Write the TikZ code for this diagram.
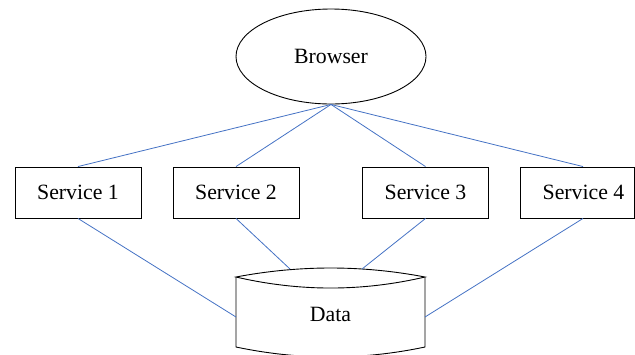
\documentclass[tikz,border=0pt]{standalone}
\usepackage{fontspec}
\setmainfont{Liberation Serif}
\usetikzlibrary{shapes.geometric}
\begin{document}
\begin{tikzpicture}[x=1pt,y=-1pt,
  every node/.style={font=\fontsize{21.8}{24}\selectfont, inner sep=0pt},
  svc/.style={draw=black, line width=0.9pt, minimum width=126pt, minimum height=51pt},
  conn/.style={draw=linkblue, line width=0.8pt},
  outline/.style={draw=black, line width=0.9pt}]
\definecolor{linkblue}{RGB}{68,114,196}
\useasboundingbox (0,0) rectangle (635,354);
\node[ellipse, outline, minimum width=190pt, minimum height=95pt] (browser) at (331,56.5) {Browser};
\node[svc] (s1) at (78,192.5) {Service 1};
\node[svc] (s2) at (236,192.5) {Service 2};
\node[svc] (s3) at (425.5,192.5) {Service 3};
\node[svc, minimum width=114pt] (s4) at (577,192.5) {\hspace*{13pt}Service 4};
% database cylinder
\draw[outline] (236,277) .. controls (299.3,265) and (362,265) .. (425,277)
  .. controls (362,291.7) and (299.3,291.7) .. (236,277) -- cycle;
\draw[outline] (236,277) -- (236,347) .. controls (299.3,360.3) and (362,360.3) .. (425,347) -- (425,277);
\node (data) at (330.5,314) {Data};
\coordinate (s4n) at ([xshift=6pt]s4.north);
\coordinate (s4s) at ([xshift=6pt]s4.south);
\coordinate (dbl) at (236,317);
\coordinate (dbtl) at (290,269);
\coordinate (dbtr) at (362,269);
\coordinate (dbr) at (425,317);
\path[conn] (browser.south) -- (s1.north);
\path[conn] (browser.south) -- (s2.north);
\path[conn] (browser.south) -- (s3.north);
\path[conn] (browser.south) -- (s4n);
\path[conn] (s1.south) -- (dbl);
\path[conn] (s2.south) -- (dbtl);
\path[conn] (s3.south) -- (dbtr);
\path[conn] (s4s) -- (dbr);
\end{tikzpicture}
\end{document}
